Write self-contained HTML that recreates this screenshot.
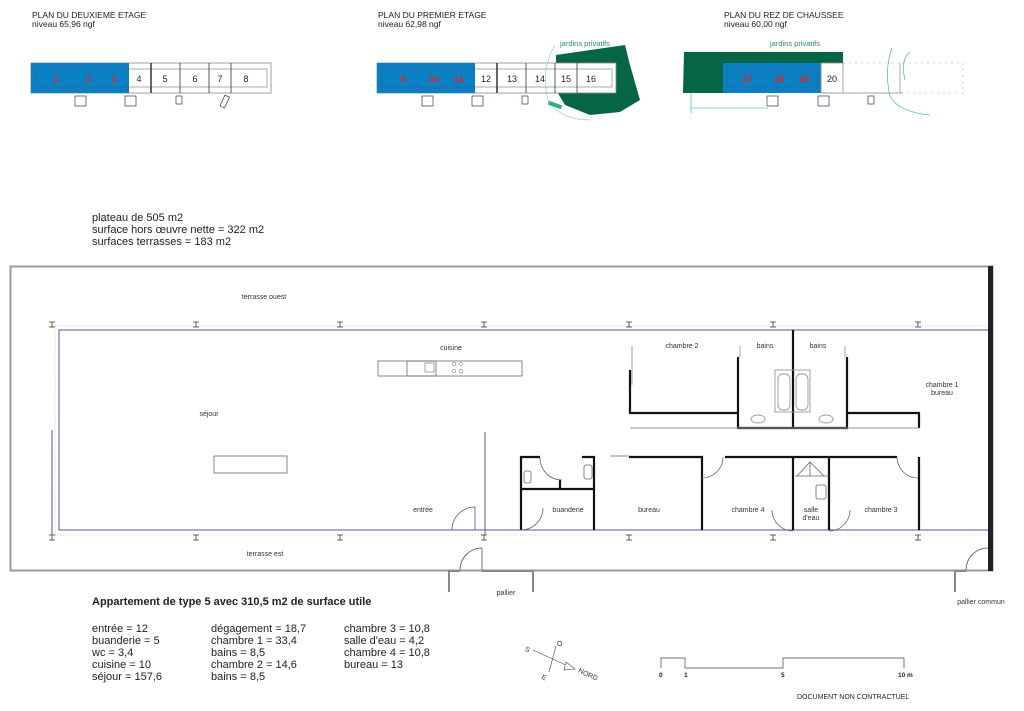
<!DOCTYPE html>
<html><head><meta charset="utf-8"><style>
html,body{margin:0;padding:0;background:#fff;}
svg{display:block;font-family:"Liberation Sans",Arial,sans-serif;}
</style></head><body>
<svg width="1024" height="711" viewBox="0 0 1024 711" xmlns="http://www.w3.org/2000/svg">
<g font-size="8.5" fill="#222">
<text x="32" y="18">PLAN DU DEUXIEME ETAGE</text>
<text x="32" y="27">niveau 65,96 ngf</text>
<text x="378" y="18">PLAN DU PREMIER ETAGE</text>
<text x="378" y="27">niveau 62,98 ngf</text>
<text x="724" y="18">PLAN DU REZ DE CHAUSSEE</text>
<text x="724" y="27">niveau 60,00 ngf</text>
</g>
<!-- Deuxieme -->
<rect x="31" y="63" width="240" height="30" fill="#fff" stroke="#888" stroke-width="0.8"/>
<rect x="31" y="63" width="98" height="30" fill="#0a80c4"/>
<rect x="35" y="69" width="232" height="18" fill="none" stroke="#557" stroke-width="0.5"/>
<line x1="151" y1="63" x2="151" y2="93" stroke="#333" stroke-width="1.5"/>
<g stroke="#333" stroke-width="0.8"><line x1="180" y1="63" x2="180" y2="93"/><line x1="209" y1="63" x2="209" y2="93"/><line x1="231" y1="63" x2="231" y2="93"/></g>
<g font-size="9" text-anchor="middle"><g fill="#e82020" font-weight="bold"><text x="56" y="82">1</text><text x="89" y="82">2</text><text x="114" y="82">3</text></g>
<g fill="#222"><text x="139" y="82">4</text><text x="165" y="82">5</text><text x="195" y="82">6</text><text x="220" y="82">7</text><text x="246" y="82">8</text></g></g>
<g fill="#fff" stroke="#336" stroke-width="0.7"><rect x="75" y="96" width="11" height="10"/><rect x="125" y="96" width="11" height="10"/><rect x="176" y="96" width="6" height="8"/><rect x="223" y="96" width="5" height="12" transform="rotate(25 226 100)"/></g>
<!-- Premier -->
<polygon points="556,55 625,45 630,65 640,100 620,112 590,115 565,105 556,90" fill="#066644"/>
<rect x="377" y="63" width="239" height="30" fill="#fff" stroke="#888" stroke-width="0.8"/>
<rect x="377" y="63" width="98" height="30" fill="#0a80c4"/>
<rect x="381" y="69" width="231" height="18" fill="none" stroke="#557" stroke-width="0.5"/>
<line x1="497" y1="63" x2="497" y2="93" stroke="#333" stroke-width="1.5"/>
<g stroke="#333" stroke-width="0.8"><line x1="526" y1="63" x2="526" y2="93"/><line x1="555" y1="63" x2="555" y2="93"/><line x1="577" y1="63" x2="577" y2="93"/></g>
<g font-size="9" text-anchor="middle"><g fill="#e82020" font-weight="bold"><text x="403" y="82">9</text><text x="434" y="82">10</text><text x="459" y="82">11</text></g>
<g fill="#222"><text x="486" y="82">12</text><text x="512" y="82">13</text><text x="540" y="82">14</text><text x="566" y="82">15</text><text x="591" y="82">16</text></g></g>
<text x="560" y="46" font-size="7.5" fill="#2a8a60">jardins privatifs</text>
<path d="M555,45 Q540,70 548,100 Q560,120 590,120" fill="none" stroke="#6b9" stroke-width="0.5"/>
<g fill="#fff" stroke="#336" stroke-width="0.7"><rect x="422" y="96" width="11" height="10"/><rect x="472" y="96" width="11" height="10"/><rect x="522" y="96" width="6" height="8"/></g>
<rect x="548" y="103" width="14" height="4" fill="#3a8" transform="rotate(20 555 105)"/>
<!-- RDC -->
<polygon points="684,52 843,52 843,63 723,63 723,93 683,93" fill="#066644"/>
<rect x="723" y="63" width="98" height="30" fill="#0a80c4"/>
<rect x="727" y="69" width="91" height="18" fill="none" stroke="#557" stroke-width="0.5"/>
<rect x="821" y="63" width="22" height="30" fill="#fff" stroke="#888" stroke-width="0.8"/>
<rect x="843" y="63" width="120" height="30" fill="none" stroke="#aaa" stroke-width="0.6" stroke-dasharray="2,4"/>
<line x1="843" y1="93" x2="903" y2="93" stroke="#888" stroke-width="0.7"/>
<line x1="900" y1="63" x2="900" y2="93" stroke="#888" stroke-width="0.7"/>
<path d="M892,48 Q884,70 890,96 Q898,112 930,115" fill="none" stroke="#3a7" stroke-width="0.6"/>
<path d="M910,52 Q900,60 905,80" fill="none" stroke="#3a7" stroke-width="0.6"/>
<line x1="691" y1="93" x2="691" y2="113" stroke="#2a8" stroke-width="0.6"/><line x1="691" y1="108" x2="768" y2="108" stroke="#2a8" stroke-width="0.6"/>
<text x="770" y="46" font-size="7.5" fill="#2a8a60">jardins privatifs</text>
<g font-size="9" text-anchor="middle"><g fill="#e82020" font-weight="bold"><text x="747" y="82">17</text><text x="779" y="82">18</text><text x="804" y="82">19</text></g><text x="832" y="82" fill="#222">20</text></g>
<g fill="#fff" stroke="#336" stroke-width="0.7"><rect x="767" y="96" width="11" height="10"/><rect x="818" y="96" width="11" height="10"/><rect x="868" y="96" width="6" height="8"/></g>

<g font-size="11" fill="#222"><text x="92" y="221">plateau de 505 m2</text><text x="92" y="233">surface hors œuvre nette = 322 m2</text><text x="92" y="245">surfaces terrasses = 183 m2</text></g>

<rect x="10.5" y="266.5" width="982" height="304" fill="none" stroke="#999" stroke-width="2"/>
<rect x="988" y="266" width="5" height="305" fill="#222"/>
<g stroke="#aaa" stroke-width="0.6" stroke-dasharray="1,1.5" fill="none"><line x1="55" y1="326" x2="988" y2="326"/><line x1="55" y1="535" x2="988" y2="535"/><line x1="55" y1="326" x2="55" y2="535"/></g>
<polyline points="988,330 59,330 59,530 988,530" fill="none" stroke="#55559a" stroke-width="1"/>
<g stroke="#333" stroke-width="0.8">
<path d="M49,322h6M52,322v5M49,327h6 M193,322h6M196,322v5M193,327h6 M337,322h6M340,322v5M337,327h6 M481,322h6M484,322v5M481,327h6 M626,322h6M629,322v5M626,327h6 M770,322h6M773,322v5M770,327h6 M915,322h6M918,322v5M915,327h6"/>
<path d="M49,535h6M52,535v5M49,540h6 M193,535h6M196,535v5M193,540h6 M337,535h6M340,535v5M337,540h6 M481,535h6M484,535v5M481,540h6 M626,535h6M629,535v5M626,540h6 M770,535h6M773,535v5M770,540h6 M915,535h6M918,535v5M915,540h6"/>
</g>
<line x1="52" y1="430" x2="52" y2="537" stroke="#777" stroke-width="1.2"/>
<line x1="485" y1="432" x2="485" y2="535" stroke="#777" stroke-width="1.2"/>
<rect x="378" y="361" width="144" height="15" fill="none" stroke="#666" stroke-width="0.8"/>
<rect x="407" y="361" width="29" height="15" fill="none" stroke="#666" stroke-width="0.8"/>
<rect x="425" y="363" width="9" height="9" fill="none" stroke="#666" stroke-width="0.6"/>
<g fill="none" stroke="#666" stroke-width="0.5"><circle cx="454" cy="364" r="1.8"/><circle cx="461" cy="364" r="1.5"/><circle cx="454" cy="371" r="1.8"/><circle cx="461" cy="371" r="2"/></g>
<rect x="214" y="456" width="73" height="17" fill="none" stroke="#666" stroke-width="0.8"/>
<path d="M452,530 A23,23 0 0 1 475,507 L475,530" fill="none" stroke="#55559a" stroke-width="0.8"/>
<g stroke="#888" stroke-width="2" fill="none"><polyline points="449,592 449,571 460,571"/><polyline points="482,571 533,571 533,592"/><polyline points="955,592 955,571 966,571"/></g>
<path d="M460,570 A22,22 0 0 1 482,548 L482,570" fill="none" stroke="#555" stroke-width="0.8"/>
<path d="M966,570 A22,22 0 0 1 988,548" fill="none" stroke="#555" stroke-width="0.8"/>

<g stroke="#111" stroke-width="2.2" fill="none">
<polyline points="630,370 630,413 738,413"/>
<polyline points="738,357 738,428 847,428 847,357"/>
<line x1="793" y1="330" x2="793" y2="428"/>
<polyline points="847,413 919,413 919,428"/>
</g>
<g stroke="#999" stroke-width="0.9" fill="none">
<line x1="632" y1="346" x2="632" y2="385"/><line x1="740" y1="346" x2="740" y2="357"/><line x1="845" y1="346" x2="845" y2="357"/>
<line x1="630" y1="428" x2="919" y2="428"/>
<rect x="775" y="370" width="35" height="42"/>
<rect x="778" y="374" width="12" height="36" rx="5"/><rect x="796" y="374" width="12" height="36" rx="5"/>
<ellipse cx="758" cy="419" rx="7" ry="4"/><ellipse cx="826" cy="419" rx="7" ry="4"/>
</g>
<g stroke="#111" stroke-width="2.2" fill="none">
<polyline points="540,457 521,457 521,530"/>
<polyline points="582,457 594,457 594,530"/>
<line x1="521" y1="489" x2="594" y2="489"/>
<line x1="560" y1="480" x2="560" y2="489"/>
<polyline points="629,457 702,457 702,530"/>
<polyline points="725,457 897,457"/>
<line x1="793" y1="457" x2="793" y2="530"/>
<line x1="829" y1="457" x2="829" y2="530"/>
<line x1="919" y1="457" x2="919" y2="530"/>
</g>
<g stroke="#666" stroke-width="0.8" fill="none">
<line x1="610" y1="456" x2="629" y2="456"/>
<path d="M540,458 A22,22 0 0 0 562,480"/>
<path d="M702,478 A21,21 0 0 0 723,457"/>
<path d="M543,508 A22,22 0 0 1 521,530"/>
<path d="M897,457 A21,21 0 0 0 918,478"/>
<path d="M772,510 A21,21 0 0 0 793,531 M850,510 A21,21 0 0 1 829,531"/>
<path d="M797,476 L810,462 L824,476 M810,462 V476 M795,476 H829"/>
<rect x="524" y="471" width="7" height="12" rx="2"/><rect x="584" y="465" width="8" height="14" rx="2"/>
<rect x="816" y="485" width="10" height="14" rx="2"/>
</g>

<g font-size="7" fill="#333" text-anchor="middle">
<text x="264" y="299">terrasse ouest</text>
<text x="451" y="350">cuisine</text>
<text x="209" y="416">séjour</text>
<text x="423" y="512">entrée</text>
<text x="265" y="556">terrasse est</text>
<text x="682" y="348">chambre 2</text>
<text x="765" y="348">bains</text>
<text x="818" y="348">bains</text>
<text x="942" y="387">chambre 1</text>
<text x="942" y="395">bureau</text>
<text x="568" y="512">buanderie</text>
<text x="649" y="512">bureau</text>
<text x="748" y="512">chambre 4</text>
<text x="811" y="512">salle</text>
<text x="811" y="520">d'eau</text>
<text x="881" y="512">chambre 3</text>
<text x="506" y="595">pallier</text>
<text x="981" y="604">pallier commun</text>
</g>

<text x="92" y="605" font-size="11" font-weight="bold" fill="#222">Appartement de type 5 avec 310,5 m2 de surface utile</text>
<g font-size="11" fill="#222">
<text x="92" y="632">entrée = 12</text><text x="92" y="644">buanderie = 5</text><text x="92" y="656">wc = 3,4</text><text x="92" y="668">cuisine = 10</text><text x="92" y="680">séjour = 157,6</text>
<text x="211" y="632">dégagement = 18,7</text><text x="211" y="644">chambre 1 = 33,4</text><text x="211" y="656">bains = 8,5</text><text x="211" y="668">chambre 2 = 14,6</text><text x="211" y="680">bains = 8,5</text>
<text x="344" y="632">chambre 3 = 10,8</text><text x="344" y="644">salle d'eau = 4,2</text><text x="344" y="656">chambre 4 = 10,8</text><text x="344" y="668">bureau = 13</text>
</g>
<g stroke="#444" stroke-width="0.6" fill="none"><line x1="533" y1="650" x2="570" y2="667"/><line x1="556" y1="646" x2="549" y2="672"/><polygon points="566,662 575,669 564,670" fill="#fff"/></g>
<g font-size="7" fill="#333"><text x="525" y="652" transform="rotate(25 528 650)">S</text><text x="557" y="646">O</text><text x="542" y="680" transform="rotate(25 545 677)">E</text><text x="578" y="673" transform="rotate(25 580 672)">NORD</text></g>
<polyline points="661,668 661,658 685,658 685,668 783,668 783,658 904,658 904,668" fill="none" stroke="#444" stroke-width="0.7"/>
<g font-size="6.5" font-weight="bold" fill="#222"><text x="659" y="677">0</text><text x="684" y="677">1</text><text x="781" y="677">5</text><text x="898" y="677">10  m</text></g>
<text x="797" y="699" font-size="7" fill="#222">DOCUMENT NON CONTRACTUEL</text>
</svg>
</body></html>
